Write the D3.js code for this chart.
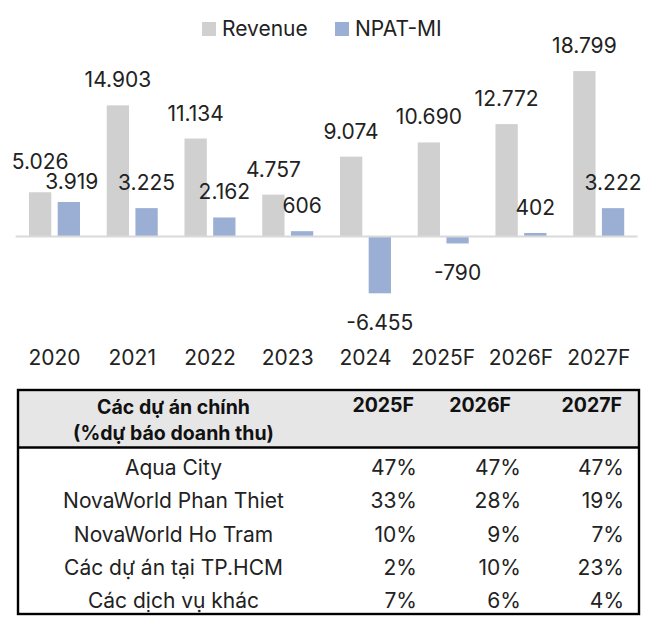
<!DOCTYPE html>
<html><head><meta charset="utf-8">
<script src="https://cdn.jsdelivr.net/npm/d3@7"></script>
<style>
html,body{margin:0;padding:0;background:#fff;}
svg{display:block;font-family:Inter, "Noto Sans", sans-serif;}
</style></head>
<body>
<svg id="c" width="653" height="628"></svg>
<script>
// ---- data ----
const years = ["2020","2021","2022","2023","2024","2025F","2026F","2027F"];
const revenue = [5026, 14903, 11134, 4757, 9074, 10690, 12772, 18799];
const npat = [3919, 3225, 2162, 606, -6455, -790, 402, 3222];
const seriesNames = ["Revenue", "NPAT-MI"];
const tableHeader = ["Các dự án chính", "(%dự báo doanh thu)"];
const tableYears = ["2025F", "2026F", "2027F"];
const projects = ["Aqua City", "NovaWorld Phan Thiet", "NovaWorld Ho Tram", "Các dự án tại TP.HCM", "Các dịch vụ khác"];
const share2025 = [47, 33, 10, 2, 7];
const share2026 = [47, 28, 9, 10, 6];
const share2027 = [47, 19, 7, 23, 4];

// ---- style ----
const colors = {"Revenue": "#d0d0d0", "NPAT-MI": "#9bafd5"};
const textColor = "#222";
const fs = 21;

const svg = d3.select("#c");
const loc = d3.formatLocale({decimal: ",", thousands: ".", grouping: [3], currency: ["", ""], minus: "-"});
const fmt = loc.format(",d");

const x0 = d3.scaleBand().domain(years).range([15.6, 637.6]).padding(0);
const bw = x0.bandwidth();
const x1 = d3.scaleBand().domain(seriesNames).range([bw / 2 - 25.5, bw / 2 + 25.5]).paddingInner(0.223);
const y = d3.scaleLinear().domain([-8000, 20000]).range([306.9, 60.5]);

const rows = years.map((yr, i) => ({year: yr, vals: [
  {s: "Revenue", v: revenue[i]}, {s: "NPAT-MI", v: npat[i]}]}));

// bars
const g = svg.append("g");
const groups = g.selectAll("g.grp").data(rows).join("g")
  .attr("transform", d => `translate(${x0(d.year)},0)`);
groups.selectAll("rect").data(d => d.vals).join("rect")
  .attr("x", d => x1(d.s))
  .attr("width", x1.bandwidth())
  .attr("y", d => Math.min(y(d.v), y(0)))
  .attr("height", d => Math.abs(y(d.v) - y(0)))
  .attr("fill", d => colors[d.s]);

// zero line
svg.append("line")
  .attr("x1", x0.range()[0]).attr("x2", x0.range()[1])
  .attr("y1", y(0)).attr("y2", y(0))
  .attr("stroke", "#d9d9d9").attr("stroke-width", 2.2);

// data labels (with simple collision handling inside each group)
groups.each(function(d) {
  const lab = d.vals.map(e => ({
    s: e.s, v: e.v,
    x: x1(e.s) + x1.bandwidth() / 2,
    by: e.v >= 0 ? y(e.v) - 18 : y(e.v) + 37
  }));
  const a = lab[0], b = lab[1];
  if (a.v >= 0 && b.v >= 0 && Math.abs(a.by - b.by) < 20) {
    const mid = (a.by + b.by) / 2;
    if (a.by <= b.by) { a.by = mid - 10; b.by = mid + 10; b.x += 3; }
    else { b.by = mid - 10; a.by = mid + 10; }
  }
  d3.select(this).selectAll("text.lbl").data(lab).join("text")
    .attr("class", "lbl")
    .attr("x", e => e.x).attr("y", e => e.by)
    .attr("text-anchor", "middle")
    .attr("font-size", fs).attr("fill", textColor)
    .text(e => fmt(e.v));
});

// x axis labels
svg.append("g").selectAll("text").data(years).join("text")
  .attr("x", d => x0(d) + bw / 2).attr("y", 365)
  .attr("text-anchor", "middle").attr("font-size", fs).attr("fill", textColor)
  .text(d => d);

// legend
const legX = [202, 335];
const leg = svg.append("g").selectAll("g").data(seriesNames).join("g")
  .attr("transform", (d, i) => `translate(${legX[i]},22)`);
leg.append("rect").attr("width", 14).attr("height", 14).attr("fill", d => colors[d]);
leg.append("text").attr("x", 20).attr("y", 14).attr("font-size", fs).attr("fill", textColor).text(d => d);

// ---- table ----
const T = {x0: 18, x1: 639, y0: 390, yH: 447.5, y1: 614};
const tg = svg.append("g");
tg.append("rect").attr("x", T.x0).attr("y", T.y0).attr("width", T.x1 - T.x0).attr("height", T.yH - T.y0).attr("fill", "#e6e6e6");
tg.append("rect").attr("x", T.x0).attr("y", T.y0).attr("width", T.x1 - T.x0).attr("height", T.y1 - T.y0)
  .attr("fill", "none").attr("stroke", "#000").attr("stroke-width", 2.4);
tg.append("line").attr("x1", T.x0).attr("x2", T.x1).attr("y1", T.yH).attr("y2", T.yH)
  .attr("stroke", "#000").attr("stroke-width", 2.4);

const col1X = 173.5;
tg.selectAll("text.h").data(tableHeader).join("text").attr("class", "h")
  .attr("x", col1X).attr("y", (d, i) => 414 + i * 25.5)
  .attr("text-anchor", "middle").attr("font-size", 19.5).attr("font-weight", 700).attr("fill", "#111")
  .text(d => d);
const hdrX = [414, 511, 622];
tg.selectAll("text.hy").data(tableYears).join("text").attr("class", "hy")
  .attr("x", (d, i) => hdrX[i]).attr("y", 412)
  .attr("text-anchor", "end").attr("font-size", 19.5).attr("font-weight", 700).attr("fill", "#111")
  .text(d => d);

const rowY = d3.scaleLinear().domain([0, 1]).range([475, 508.3]);
tg.selectAll("text.p").data(projects).join("text").attr("class", "p")
  .attr("x", col1X).attr("y", (d, i) => rowY(i))
  .attr("text-anchor", "middle").attr("font-size", fs).attr("fill", textColor)
  .text(d => d);
const valX = [417, 521, 624];
[share2025, share2026, share2027].forEach((arr, c) => {
  tg.selectAll("text.v" + c).data(arr).join("text").attr("class", "v" + c)
    .attr("x", valX[c]).attr("y", (d, i) => rowY(i))
    .attr("text-anchor", "end").attr("font-size", fs).attr("fill", textColor)
    .text(d => d + "%");
});
</script>
</body></html>
